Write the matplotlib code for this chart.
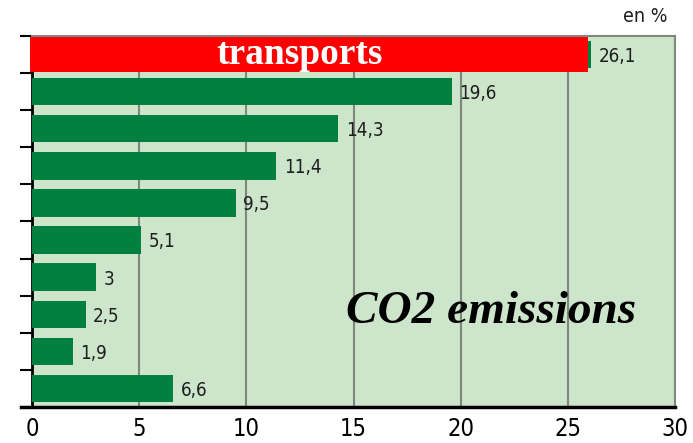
import matplotlib
matplotlib.use("Agg")
import matplotlib.pyplot as plt
from matplotlib import font_manager

# --- DATA ---
values = [26.1, 19.6, 14.3, 11.4, 9.5, 5.1, 3, 2.5, 1.9, 6.6]
value_labels = ["26,1", "19,6", "14,3", "11,4", "9,5", "5,1", "3", "2,5", "1,9", "6,6"]
x_ticks = [0, 5, 10, 15, 20, 25, 30]
highlight_label = "transports"
title_text = "CO2 emissions"
unit_text = "en %"

# --- STYLE ---
BG = "#cde5ca"
BAR = "#00803f"
GRID = "#7f877f"
SERIF = ["Liberation Serif", "DejaVu Serif"]
names = {f.name for f in font_manager.fontManager.ttflist}
print(sorted(names))
NARROW_FP = dict(family="DejaVu Sans", stretch="condensed")

fig = plt.figure(figsize=(6.93, 4.43), dpi=100)
ax = fig.add_axes([32 / 693, 36 / 443, 643 / 693, 371 / 443])
ax.set_facecolor(BG)

pos = list(range(len(values)))
ax.barh(pos, values, height=0.74, color=BAR, zorder=3)

# red highlight over the first bar
ax.barh(pos[0], values[0] - 0.05, left=-0.1, height=0.96, align="center",
        color="#ff0000", zorder=4, clip_on=False)
ax.text(12.5, pos[0], highlight_label, color="white", ha="center",
        va="center", fontsize=27, fontweight="bold", family=SERIF, zorder=5)

for p, v, lab in zip(pos, values, value_labels):
    ax.text(v + 0.35, p + 0.05, lab, ha="left", va="center", fontsize=13.5,
            color="#1e1e1e", fontproperties=font_manager.FontProperties(**NARROW_FP),
            zorder=5)

ax.set_xlim(0, 30)
ax.set_ylim(len(values) - 0.5, -0.5)
ax.set_xticks(x_ticks)
ax.set_xticklabels([str(t) for t in x_ticks],
                   fontproperties=font_manager.FontProperties(size=17, **NARROW_FP))
ax.set_yticks([p - 0.5 for p in pos])
ax.set_yticklabels([])
ax.tick_params(axis="y", length=9, width=1.5, color="black", direction="out")
ax.tick_params(axis="x", length=0, pad=7)

ax.grid(axis="x", color=GRID, linewidth=1.5, zorder=1)
ax.set_axisbelow(True)

for s in ["top", "right"]:
    ax.spines[s].set_color(GRID)
    ax.spines[s].set_linewidth(1.5)
ax.spines["left"].set_color("black")
ax.spines["left"].set_linewidth(2)
ax.spines["bottom"].set_color("black")
ax.spines["bottom"].set_linewidth(2.5)
ax.spines["bottom"].set_bounds(-0.5, 30)

ax.text(21.4, 6.95, title_text, ha="center", va="center", fontsize=34,
        fontweight="bold", style="italic", family=SERIF, zorder=6)
fig.text(645 / 693, 1 - 16 / 443, unit_text, ha="center", va="center",
         color="#1e1e1e", fontproperties=font_manager.FontProperties(size=14, **NARROW_FP))

fig.savefig("out.png", dpi=100)
